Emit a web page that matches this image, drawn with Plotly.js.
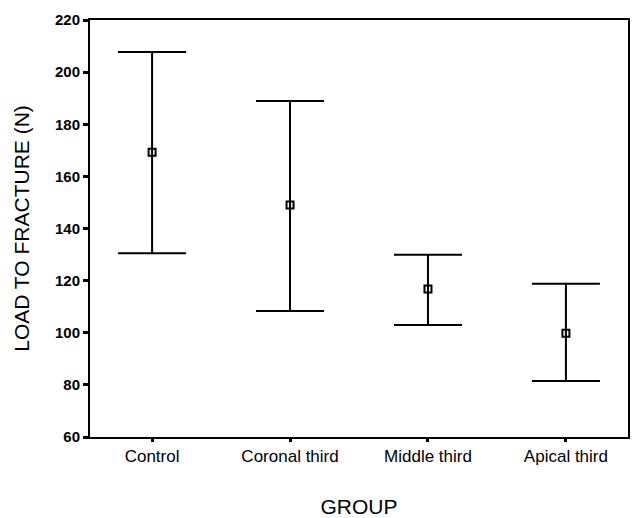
<!DOCTYPE html>
<html>
<head>
<meta charset="utf-8">
<script src="https://cdn.plot.ly/plotly-3.0.1.min.js"></script>
<style>html,body{margin:0;padding:0;background:#fff;}#chart{width:633px;height:518px;}</style>
</head>
<body>
<div id="chart"></div>
<script>
const categories = ["Control", "Coronal third", "Middle third", "Apical third"];
const means = [169.3, 149.0, 116.8, 99.8];
const upper = [207.7, 188.9, 129.9, 118.8];
const lower = [130.5, 108.3, 103.0, 81.5];
const yTicks = [60, 80, 100, 120, 140, 160, 180, 200, 220];

const plus = upper.map((u, i) => u - means[i]);
const minus = lower.map((l, i) => means[i] - l);

const trace = {
  type: "scatter",
  mode: "markers",
  x: categories,
  y: means,
  marker: {symbol: "square-open", size: 7, color: "#000", line: {width: 2, color: "#000"}},
  error_y: {type: "data", symmetric: false, array: plus, arrayminus: minus,
            color: "#000", thickness: 2, width: 34},
  hoverinfo: "skip"
};

const layout = {
  width: 633, height: 518,
  margin: {l: 90, r: 5, t: 20, b: 81},
  paper_bgcolor: "#fff", plot_bgcolor: "#fff",
  showlegend: false,
  font: {family: "Liberation Sans, Arial, sans-serif", color: "#000"},
  xaxis: {
    type: "category", range: [-0.45, 3.45],
    showline: true, mirror: true, linecolor: "#000", linewidth: 2,
    showgrid: false, zeroline: false,
    ticks: "outside", ticklen: 3, tickwidth: 3, tickcolor: "#000",
    tickfont: {size: 17, family: "Liberation Sans, Arial, sans-serif"},
    title: {text: "GROUP", font: {size: 21}, standoff: 40}
  },
  yaxis: {
    range: [60, 220], tickvals: yTicks, ticktext: yTicks.map(String),
    showline: true, mirror: true, linecolor: "#000", linewidth: 2,
    showgrid: false, zeroline: false,
    ticks: "outside", ticklen: 5, tickwidth: 3, tickcolor: "#000",
    tickfont: {size: 15, family: "Liberation Sans, Arial, sans-serif", weight: "bold"},
    title: {text: "LOAD TO FRACTURE (N)", font: {size: 21}, standoff: 20}
  }
};

Plotly.newPlot("chart", [trace], layout, {displayModeBar: false, staticPlot: true});
</script>
</body>
</html>
